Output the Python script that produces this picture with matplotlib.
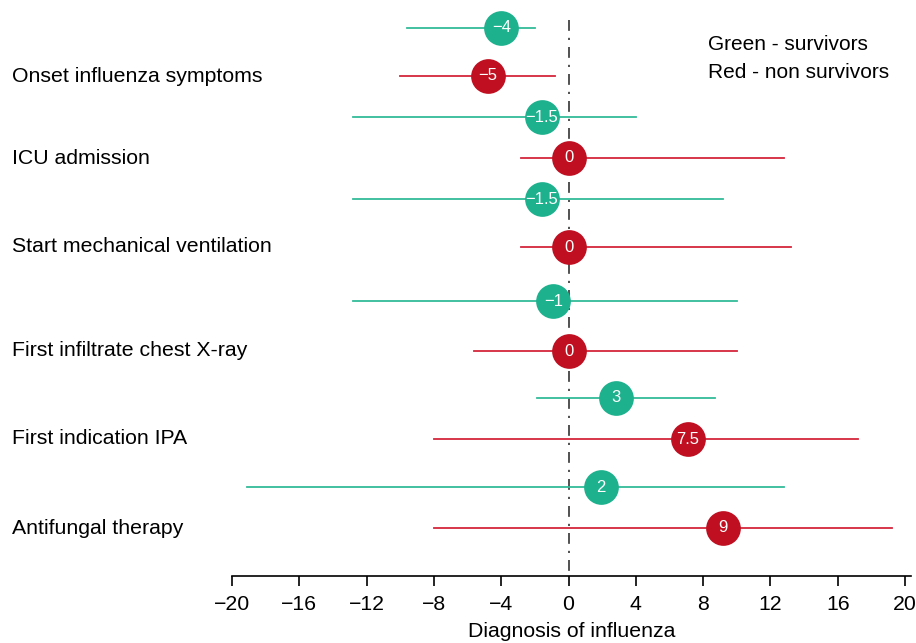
import matplotlib.pyplot as plt
from matplotlib.transforms import blended_transform_factory

plt.rcParams['font.family'] = ['Liberation Sans', 'DejaVu Sans']

categories = ['Onset influenza symptoms', 'ICU admission', 'Start mechanical ventilation',
              'First infiltrate chest X-ray', 'First indication IPA', 'Antifungal therapy']

# survivors (green)
surv_label = ['\u22124', '\u22121.5', '\u22121.5', '\u22121', '3', '2']
surv_med = [-4.0, -1.6, -1.6, -0.9, 2.8, 1.9]
surv_lo = [-9.6, -12.8, -12.8, -12.8, -1.9, -19.1]
surv_hi = [-2.0, 4.0, 9.2, 10.0, 8.7, 12.8]

# non survivors (red)
nonsurv_label = ['\u22125', '0', '0', '0', '7.5', '9']
nonsurv_med = [-4.8, 0.0, 0.0, 0.0, 7.1, 9.2]
nonsurv_lo = [-10.0, -2.8, -2.8, -5.6, -8.0, -8.0]
nonsurv_hi = [-0.8, 12.8, 13.2, 10.0, 17.2, 19.2]

# row positions (top = 0, axis line = 576)
surv_y = [28, 117, 199, 301, 398, 487]
nonsurv_y = [76, 158, 247, 351, 439, 528]

green_dot, green_line = '#1db18d', '#33bb99'
red_dot, red_line = '#bf0f20', '#d3263a'

fig = plt.figure(figsize=(9.16, 6.43), dpi=100)
ax = fig.add_axes([232 / 916, 1 - 576 / 643, (911 - 232) / 916, 576 / 643])
ax.set_xlim(-20, 20.35)
ax.set_ylim(576, 0)

ax.plot([0, 0], [20, 576], color='#333333', linestyle=(0, (6.5, 4.2, 1.3, 4.2)),
        linewidth=1.2, zorder=1)

for y, lo, hi, m, lab in zip(surv_y, surv_lo, surv_hi, surv_med, surv_label):
    ax.plot([lo, hi], [y, y], color=green_line, linewidth=1.3, zorder=2)
    ax.plot(m, y, 'o', markersize=25, color=green_dot, markeredgewidth=0, zorder=3)
    ax.text(m, y, lab, color='white', fontsize=12, ha='center', va='center', zorder=4)

for y, lo, hi, m, lab in zip(nonsurv_y, nonsurv_lo, nonsurv_hi, nonsurv_med, nonsurv_label):
    ax.plot([lo, hi], [y, y], color=red_line, linewidth=1.3, zorder=2)
    ax.plot(m, y, 'o', markersize=25, color=red_dot, markeredgewidth=0, zorder=3)
    ax.text(m, y, lab, color='white', fontsize=12, ha='center', va='center', zorder=4)

trans = blended_transform_factory(fig.transFigure, ax.transData)
for y, cat in zip(nonsurv_y, categories):
    ax.text(12 / 916, y, cat, transform=trans, fontsize=15.3, ha='left', va='center')

fig.text(708 / 916, 1 - 44 / 643, 'Green - survivors', fontsize=15, va='center')
fig.text(708 / 916, 1 - 73 / 643, 'Red - non survivors', fontsize=15, va='center')

for side in ['top', 'right', 'left']:
    ax.spines[side].set_visible(False)
ax.spines['bottom'].set_linewidth(1.2)
ax.set_yticks([])
ax.set_xticks(range(-20, 21, 4))
ax.set_xticklabels([str(t).replace('-', '\u2212') for t in range(-20, 21, 4)])
ax.tick_params(axis='x', direction='out', length=7, width=1.2, labelsize=15.3, pad=7)
ax.set_xlabel('Diagnosis of influenza', fontsize=15.3, labelpad=5.5)

fig.savefig('out.png', dpi=100)
